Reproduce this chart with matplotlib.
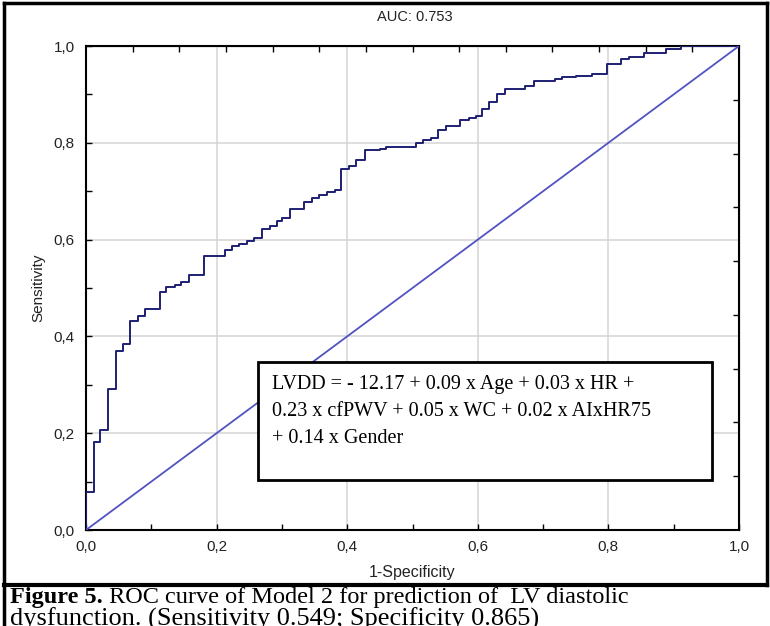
import numpy as np
import matplotlib.pyplot as plt
from matplotlib.patches import Rectangle
from matplotlib.lines import Line2D

# ROC curve corners (1-specificity, sensitivity)
fpr = [0.0, 0.0, 0.012, 0.022, 0.034, 0.046, 0.056, 0.067, 0.080, 0.090,
       0.113, 0.123, 0.136, 0.146, 0.157, 0.181, 0.213, 0.224, 0.234, 0.247,
       0.257, 0.270, 0.282, 0.293, 0.300, 0.312, 0.334, 0.346, 0.357, 0.369,
       0.381, 0.391, 0.403, 0.414, 0.427, 0.450, 0.460, 0.505, 0.516, 0.529,
       0.539, 0.551, 0.573, 0.586, 0.598, 0.607, 0.617, 0.630, 0.641, 0.672,
       0.686, 0.718, 0.729, 0.750, 0.775, 0.798, 0.820, 0.832, 0.855, 0.888,
       0.911, 0.922, 1.0]
tpr = [0.0, 0.079, 0.181, 0.206, 0.292, 0.369, 0.384, 0.432, 0.443, 0.457,
       0.492, 0.503, 0.507, 0.512, 0.527, 0.566, 0.578, 0.586, 0.590, 0.597,
       0.604, 0.621, 0.628, 0.638, 0.645, 0.663, 0.677, 0.686, 0.693, 0.699,
       0.703, 0.745, 0.753, 0.765, 0.785, 0.788, 0.791, 0.799, 0.805, 0.810,
       0.826, 0.834, 0.847, 0.851, 0.855, 0.870, 0.885, 0.901, 0.912, 0.918,
       0.927, 0.931, 0.935, 0.938, 0.942, 0.963, 0.974, 0.977, 0.985, 0.993,
       0.999, 1.0, 1.0]
diag = [0.0, 1.0]

tick_vals = [0.0, 0.2, 0.4, 0.6, 0.8, 1.0]
tick_labels = ['0,0', '0,2', '0,4', '0,6', '0,8', '1,0']

title = 'AUC: 0.753'
equation = ['LVDD = - 12.17 + 0.09 x Age + 0.03 x HR +',
            '0.23 x cfPWV + 0.05 x WC + 0.02 x AIxHR75',
            '+ 0.14 x Gender']
caption_bold = 'Figure 5.'
caption_1 = ' ROC curve of Model 2 for prediction of  LV diastolic'
caption_2 = 'dysfunction. (Sensitivity 0.549; Specificity 0.865)'

W, H = 770, 626
fig = plt.figure(figsize=(W / 100, H / 100), dpi=100)
fig.patch.set_facecolor('white')


def fx(px):
    return px / W


def fy(py):
    return 1 - py / H


sans = ['Liberation Sans', 'DejaVu Sans']
serif = ['Liberation Serif', 'DejaVu Serif']

ax = fig.add_axes([fx(86), fy(530), fx(739) - fx(86), fy(46) - fy(530)])
ax.plot(fpr, tpr, drawstyle='steps-post', color='#1f1f74', lw=1.4, zorder=3)
ax.plot(diag, diag, color='#5252c2', lw=1.3, zorder=3)
ax.set_xlim(0, 1)
ax.set_ylim(0, 1)

ax.set_xticks(tick_vals)
ax.set_xticklabels(tick_labels, fontfamily=sans, fontsize=11, color='#222222')
ax.set_yticks(tick_vals)
ax.set_yticklabels(tick_labels, fontfamily=sans, fontsize=11, color='#222222')
ax.set_xticks(np.arange(0.1, 1.0, 0.2), minor=True)
ax.set_yticks(np.arange(0.1, 1.0, 0.2), minor=True)
ax.tick_params(which='both', direction='in', length=4, width=1, color='black')
ax.tick_params(axis='x', pad=7)
ax.tick_params(axis='y', pad=8)
ax.grid(True, which='major', color='#d4d4d4', lw=1.1)
ax.set_axisbelow(True)
for s in ax.spines.values():
    s.set_linewidth(1.5)
    s.set_color('black')

# secondary scales drawn along top and right edges
top = ax.secondary_xaxis('top')
top.set_xticks(np.arange(1, 14) / 14)
top.tick_params(direction='in', length=4, width=1, labeltop=False)
right = ax.secondary_yaxis('right')
right.set_yticks(np.arange(1, 9) / 9)
right.tick_params(direction='in', length=4, width=1, labelright=False)

ax.set_xlabel('1-Specificity', fontfamily=sans, fontsize=11.5, labelpad=8, color='#222222')
ax.set_ylabel('Sensitivity', fontfamily=sans, fontsize=11, labelpad=6, color='#222222')
fig.text(fx(415), fy(17), title, ha='center', va='center', fontfamily=sans,
         fontsize=10.5, color='#222222')

# equation box
fig.add_artist(Rectangle((fx(258), fy(480)), fx(712) - fx(258), fy(362) - fy(480),
                         transform=fig.transFigure, facecolor='white',
                         edgecolor='black', lw=2, zorder=5))
for i, line in enumerate(equation):
    fig.text(fx(272), fy(389 + 27 * i), line, ha='left', va='baseline',
             fontfamily=serif, fontsize=14.5, color='black', zorder=6)

# outer frame and caption box
frame = dict(color='black', lw=2.5, transform=fig.transFigure)
fig.add_artist(Line2D([fx(4), fx(4)], [fy(3), 0], **frame))
fig.add_artist(Line2D([fx(4), fx(767)], [fy(3), fy(3)], **frame))
fig.add_artist(Line2D([fx(767), fx(767)], [fy(3), fy(585)], **frame))
fig.add_artist(Line2D([fx(4), fx(767)], [fy(585), fy(585)], color='black', lw=3,
                      transform=fig.transFigure))

t = fig.text(fx(10), fy(603), caption_bold, ha='left', va='baseline',
             fontfamily=serif, fontsize=17.5, fontweight='bold')
fig.canvas.draw()
bb = t.get_window_extent()
fig.text(bb.x1 / W, fy(603), caption_1, ha='left', va='baseline',
         fontfamily=serif, fontsize=17.5)
fig.text(fx(10), fy(626), caption_2, ha='left', va='baseline',
         fontfamily=serif, fontsize=19)

fig.savefig('out.png', dpi=100)
